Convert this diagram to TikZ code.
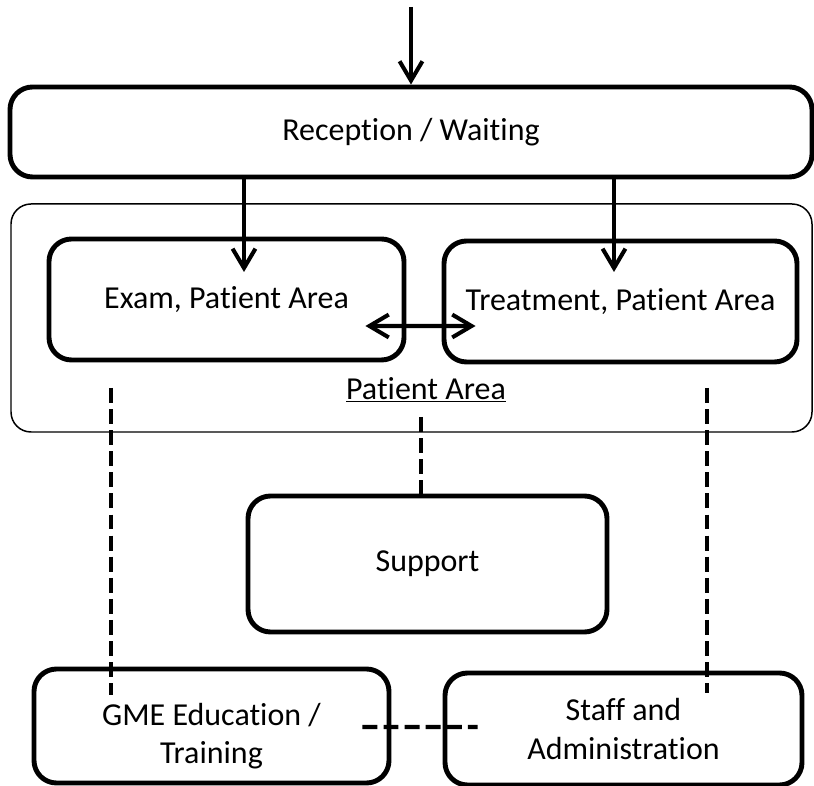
\documentclass[tikz,border=0pt]{standalone}
\usepackage{fontspec}
\setmainfont{Carlito}[Ligatures=NoCommon]
\usepackage{tikz}
\usetikzlibrary{arrows.meta, positioning, calc}

\begin{document}
\begin{tikzpicture}[
    room/.style={draw, line width=2.8pt, rounded corners=0.45cm,
      font=\fontsize{18.2}{22}\selectfont, align=center, inner sep=0pt},
    roomtext/.style={font=\fontsize{18.2}{22}\selectfont, align=center, inner sep=0pt},
    flow/.style={line width=2.3pt, -{Straight Barb[length=11pt,width=13pt]}},
    flowboth/.style={line width=2.3pt, {Straight Barb[length=11pt,width=13pt]}-{Straight Barb[length=11pt,width=13pt]}},
    link/.style={line width=2.3pt, dash pattern=on 8.5pt off 3.5pt}
  ]
  \useasboundingbox (0,0) rectangle (16.28,15.7);

  %% Reception and the way in
  \coordinate (entry) at (8.22,15.56);
  \node[room, minimum width=16.04cm, minimum height=1.8cm] (recep) at (8.22,13.06) {Reception / Waiting};
  \draw[flow] (entry) -- (recep.north);

  %% Patient area
  \node[draw, line width=0.85pt, rounded corners=0.4cm,
        minimum width=16.02cm, minimum height=4.56cm] (patarea) at (8.23,9.34) {};
  \node[room, minimum width=7.1cm,  minimum height=2.42cm] (exam)  at (4.53,9.71)  {Exam, Patient Area};
  \node[room, minimum width=7.06cm, minimum height=2.42cm] (treat) at (12.41,9.67) {Treatment, Patient Area};
  \node[roomtext] (patlabel) at (8.52,7.9) {\underline{Patient Area}};

  \coordinate (examin)  at (4.88,10.26);
  \coordinate (treatin) at (12.28,10.26);
  \draw[flow] (recep.south -| examin)  -- (examin);
  \draw[flow] (recep.south -| treatin) -- (treatin);
  \draw[flowboth] ($(exam.east)+(-0.82,-0.53)$) -- ($(treat.west)+(0.68,-0.49)$);

  %% Support and offices
  \node[room, minimum width=7.18cm, minimum height=2.72cm] (support) at (8.55,4.42) {Support};
  \node[room, minimum width=7.1cm,  minimum height=2.28cm] (gme)     at (4.23,1.18) {};
  \node[roomtext] (gmetext) at ([yshift=-0.2cm]gme.center) {GME Education /\\Training};
  \node[room, minimum width=7.14cm, minimum height=2.24cm] (staff)   at (12.47,1.12) {Staff and\\Administration};

  \coordinate (leftlink)  at (2.22,7.94);
  \coordinate (midlink)   at (8.42,7.36);
  \coordinate (rightlink) at (14.14,7.94);
  \draw[link] (leftlink)  -- ($(gme.north -| leftlink)+(0,-0.56)$);
  \draw[link] (midlink)   -- (support.north -| midlink);
  \draw[link] (rightlink) -- ($(staff.north -| rightlink)+(0,-0.44)$);
  \draw[link] ($(gme.east)+(-0.58,-0.02)$) -- ($(staff.west)+(0.7,0.04)$);
\end{tikzpicture}
\end{document}
